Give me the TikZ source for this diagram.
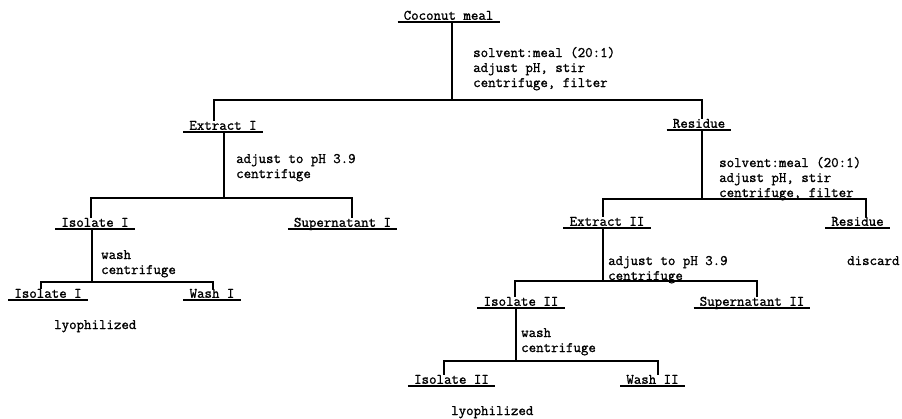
\documentclass[tikz,border=0pt]{standalone}
\usepackage{fontspec}
\newfontfamily\typewriter{Latin Modern Mono}[FakeBold=1.2]

\begin{document}
\begin{tikzpicture}[
  x=1pt, y=-1pt,
  every node/.style={font=\fontsize{14.5}{15}\selectfont\typewriter},
  stage/.style={anchor=south, inner xsep=6pt, inner ysep=2pt,
    text height=0.7em, text depth=0pt,
    append after command={(\tikzlastnode.south west) edge[draw,line width=1.2pt] (\tikzlastnode.south east)}},
  treat/.style={align=left, anchor=base west, inner sep=0pt},
  link/.style={line width=1.2pt}
]
  \useasboundingbox (0,0) rectangle (902,418);

  % products
  \node[stage] (coconut) at (448.5,22) {Coconut meal};
  \node[stage] (extractI) at (223,132) {Extract I};
  \node[stage] (residueI) at (699,130) {Residue};
  \node[stage] (isolateI) at (95,229) {Isolate I};
  \node[stage] (supernatantI) at (342.5,229) {Supernatant I};
  \node[stage] (extractII) at (607,228) {Extract II};
  \node[stage] (residueII) at (857.5,228) {Residue};
  \node[stage] (dryI) at (48,300) {Isolate I};
  \node[stage] (washI) at (212,300) {Wash I};
  \node[stage] (isolateII) at (521,308) {Isolate II};
  \node[stage] (supernatantII) at (752,308) {Supernatant II};
  \node[stage] (dryII) at (451.5,386) {Isolate II};
  \node[stage] (washII) at (652.5,386) {Wash II};

  % treatments (placed by the base line of their last line)
  \node[treat] (extract) at (473,87) {solvent:meal (20:1)\\adjust pH, stir\\centrifuge, filter};
  \node[treat] (acidI) at (236,178) {adjust to pH 3.9\\centrifuge};
  \node[treat] (reextract) at (719,197) {solvent:meal (20:1)\\adjust pH, stir\\centrifuge, filter};
  \node[treat] (rinseI) at (101,274) {wash\\centrifuge};
  \node[treat] (acidII) at (608,280) {adjust to pH 3.9\\centrifuge};
  \node[treat] (rinseII) at (521,352) {wash\\centrifuge};
  \node[treat] (lyoI) at (54,329) {lyophilized};
  \node[treat] (lyoII) at (451,415) {lyophilized};
  \node[treat] (discard) at (847,265) {discard};

  % branch points
  \coordinate (split1) at (452,100);
  \coordinate (split2) at (224,198);
  \coordinate (split3) at (702,199);
  \coordinate (split4) at (92,282);
  \coordinate (split5) at (603,281);
  \coordinate (split6) at (516,361);

  \draw[link] ([xshift=3.5pt]coconut.south) -- (split1);
  \draw[link] ([xshift=-9pt]extractI.north) |- (split1) -| ([xshift=3pt]residueI.north);
  \draw[link] ([xshift=1pt]extractI.south) -- (split2);
  \draw[link] ([xshift=-4pt]isolateI.north) |- (split2) -| ([xshift=9.5pt]supernatantI.north);
  \draw[link] ([xshift=3pt]residueI.south) -- (split3);
  \draw[link] ([xshift=-4pt]extractII.north) |- (split3) -| ([xshift=8.5pt]residueII.north);
  \draw[link] ([xshift=-3pt]isolateI.south) -- (split4);
  \draw[link] ([xshift=-7pt]dryI.north) |- (split4) -| ([xshift=1pt]washI.north);
  \draw[link] ([xshift=-4pt]extractII.south) -- (split5);
  \draw[link] ([xshift=-6pt]isolateII.north) |- (split5) -| ([xshift=5pt]supernatantII.north);
  \draw[link] ([xshift=-5pt]isolateII.south) -- (split6);
  \draw[link] ([xshift=-7.5pt]dryII.north) |- (split6) -| ([xshift=5.5pt]washII.north);
\end{tikzpicture}
\end{document}
